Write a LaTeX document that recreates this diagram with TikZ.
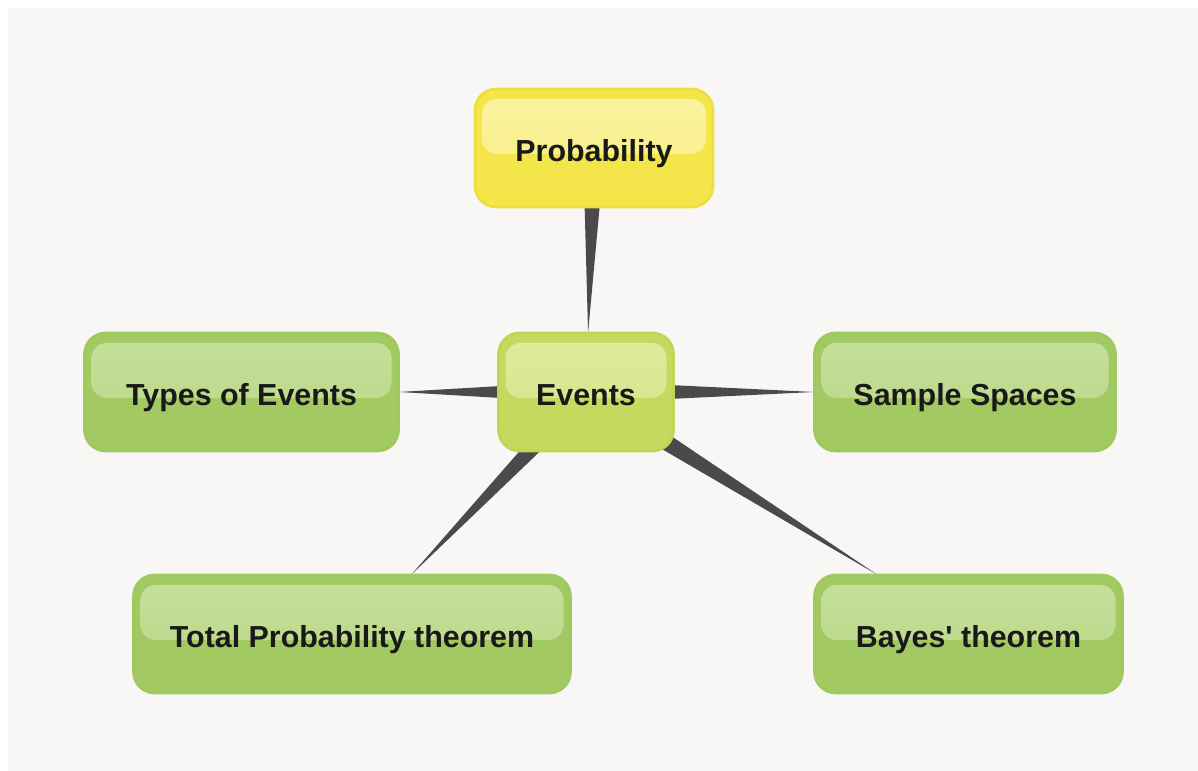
\documentclass[tikz,border=0pt]{standalone}
\usepackage{fontspec}
\setmainfont{Liberation Sans}
\usetikzlibrary{calc}
\definecolor{bgcol}{HTML}{F8F7F6}
\definecolor{linkcol}{HTML}{4A4A4C}
\definecolor{greenbody}{HTML}{A3C963}
\definecolor{greenedge}{HTML}{9FC95E}
\definecolor{greenhi}{HTML}{C6E09C}
\definecolor{limebody}{HTML}{C4D95E}
\definecolor{limeedge}{HTML}{BDD654}
\definecolor{limehi}{HTML}{E0EB9F}
\definecolor{yelbody}{HTML}{F4E64A}
\definecolor{yeledge}{HTML}{EEDF3E}
\definecolor{yelhi}{HTML}{FAF3A2}

\tikzset{
  topic/.style={draw=#1edge, line width=1.5pt, fill=#1body, rounded corners=0.42cm,
    minimum height=2.36cm, inner sep=0pt, text=black!90,
    text height=15.6pt, text depth=0pt,
    font=\fontsize{17.3}{20}\selectfont\bfseries,
    path picture={
      \shade[top color=#1hi, bottom color=#1hi!55!#1body, rounded corners=0.3cm]
        ($(path picture bounding box.north west)+(0.14,-0.2)$) rectangle
        ($(path picture bounding box.east)+(-0.14,-0.12)$);
    }},
}
% tapered link: wide at the parent, pointed at the child
\newcommand{\taperlink}[2]{%
  \fill[linkcol] let \p1=($(#1)-(#2)$), \n1={atan2(\y1,\x1)} in
    ($(#1)!0.22cm!90:(#2)$) -- ($(#1)!0.22cm!-90:(#2)$) -- (#2.\n1) -- cycle;
}

\begin{document}
\begin{tikzpicture}
    \useasboundingbox (0,0) rectangle (23.96,15.42);
    \fill[bgcol] (0.16,0) rectangle (23.96,15.26);

    \coordinate (pP) at (11.88,12.46);
    \coordinate (pE) at (11.72,7.58);
    \coordinate (pT) at (4.83,7.58);
    \coordinate (pS) at (19.30,7.58);
    \coordinate (pL) at (7.04,2.74);
    \coordinate (pB) at (19.37,2.74);

    % invisible shapes first, so the links can use their borders
    \path (pP) node[minimum width=4.76cm, minimum height=2.36cm] (prob) {}
          (pE) node[minimum width=3.50cm, minimum height=2.36cm] (events) {}
          (pT) node[minimum width=6.28cm, minimum height=2.36cm] (types) {}
          (pS) node[minimum width=6.02cm, minimum height=2.36cm] (sample) {}
          (pL) node[minimum width=8.74cm, minimum height=2.36cm] (total) {}
          (pB) node[minimum width=6.16cm, minimum height=2.36cm] (bayes) {};

    \taperlink{prob}{events}
    \taperlink{events}{types}
    \taperlink{events}{sample}
    \taperlink{events}{total}
    \taperlink{events}{bayes}

    \node[topic=yel, minimum width=4.76cm] (probbox) at (pP) {Probability};
    \node[topic=lime, minimum width=3.50cm] (eventsbox) at (pE) {Events};
    \node[topic=green, minimum width=6.28cm] (typesbox) at (pT) {Types of Events};
    \node[topic=green, minimum width=6.02cm] (samplebox) at (pS) {Sample Spaces};
    \node[topic=green, minimum width=8.74cm] (totalbox) at (pL) {Total Probability theorem};
    \node[topic=green, minimum width=6.16cm] (bayesbox) at (pB) {Bayes\textquotesingle\ theorem};
\end{tikzpicture}
\end{document}
